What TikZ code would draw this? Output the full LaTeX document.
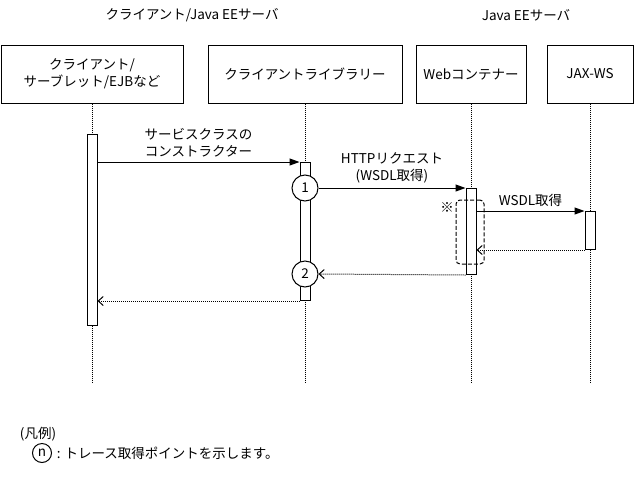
\documentclass[tikz,border=0pt]{standalone}
\usepackage{fontspec}
\setmainfont{Noto Sans CJK JP}
\usetikzlibrary{arrows.meta,positioning}

\tikzset{
	obj/.style={draw, minimum height=58pt, align=center, inner sep=0pt},
	lifeline/.style={densely dotted},
	actbox/.style={draw, fill=white, minimum width=10pt, inner sep=0pt},
	tracept/.style={draw, circle, fill=white, minimum size=26pt, inner sep=0pt},
	msg/.style={-{Triangle[length=10pt,width=7pt]}},
	reply/.style={densely dotted, -{Straight Barb[length=5pt,width=9pt]}},
}

\newcommand{\drawlifeline}[1]{
	\draw[lifeline] (#1.south) -- (#1.south |- bottom);
}

\begin{document}
\begin{tikzpicture}[x=1pt,y=-1pt,line width=1pt,font=\fontsize{13.5}{17}\selectfont]
	\useasboundingbox (0,0) rectangle (636,480);
	\coordinate (bottom) at (0,382);
	
	\node (cltitle) at (192,15) {クライアント/Java EEサーバ};
	\node (svtitle) at (526,15) {Java EEサーバ};
	
	\node[obj, minimum width=182pt] (client) at (92,74) {クライアント/\\サーブレット/EJBなど};
	\node[obj, minimum width=194pt] (lib) at (305,74) {クライアントライブラリー};
	\node[obj, minimum width=110pt] (web) at (471,74) {Webコンテナー};
	\node[obj, minimum width=86pt] (jaxws) at (590,74) {JAX-WS};
	
	\foreach \o in {client,lib,web,jaxws} {
		\drawlifeline{\o}
	}
	
	\node[actbox, anchor=north, minimum height=191pt] (act1) at (92,134) {};
	\node[actbox, anchor=north, minimum height=138pt] (act2) at (305,162) {};
	\node[actbox, anchor=north, minimum height=86pt] (act3) at (471,188) {};
	\node[actbox, anchor=north, minimum height=38pt] (act4) at (590,211) {};
	
	\node[tracept] (tp1) at (305,188) {1};
	\node[tracept] (tp2) at (305,274) {2};
	
	\node[draw, dash pattern=on 4pt off 2pt, rounded corners=4pt, minimum width=28pt, minimum height=64pt] (trbox) at (470,232) {};
	\node (mark) at (447,207) {※};
	
	\draw[msg] (act1.east |- act2.north west) -- node[above=1pt, align=center] {サービスクラスの\\コンストラクター} (act2.north west);
	\draw[msg] (tp1.east) -- node[above=1pt, align=center] {HTTPリクエスト\\(WSDL取得)} (act3.north west);
	\draw[msg] (act3.east |- act4.north west) -- node[above=1pt] {WSDL取得} (act4.north west);
	\draw[reply] (act4.south west) -- (act3.east |- act4.south west);
	\draw[reply] (act3.south west) -- (tp2.east);
	\draw[reply] (act2.south west) -- (act1.east |- act2.south west);
	
	\node (legend) at (38,434) {(凡例)};
	\node[tracept, minimum size=19pt] (tpn) at (42,453) {n};
	\node[right=1pt of tpn] (legtext) {: トレース取得ポイントを示します。};
\end{tikzpicture}
\end{document}
